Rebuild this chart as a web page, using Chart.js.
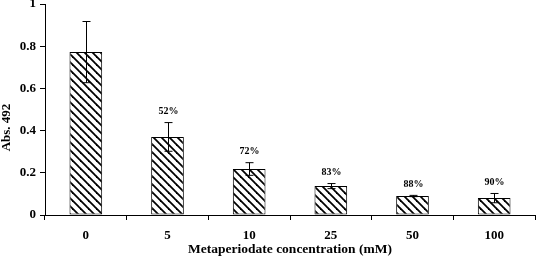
<!DOCTYPE html>
<html>
<head>
<meta charset="utf-8">
<script src="https://cdn.jsdelivr.net/npm/chart.js@4"></script>
<style>
  html, body { margin: 0; padding: 0; background: #fff; }
  #wrap { width: 536px; height: 258px; }
</style>
</head>
<body>
<div id="wrap"><canvas id="myChart"></canvas></div>
<script>
const categories = ['0', '5', '10', '25', '50', '100'];
const means = [0.772, 0.370, 0.218, 0.137, 0.090, 0.080];
const errors = [0.145, 0.068, 0.030, 0.012, 0.003, 0.022];
const pctLabels = ['', '52%', '72%', '83%', '88%', '90%'];

const serif = "'Liberation Serif', 'Times New Roman', serif";

// diagonal hatch fill
function makeHatch() {
  const c = document.createElement('canvas');
  c.width = 8; c.height = 8;
  const g = c.getContext('2d');
  g.fillStyle = '#fff';
  g.fillRect(0, 0, 8, 8);
  g.strokeStyle = '#000';
  g.lineWidth = 1.8;
  for (let k = -1; k <= 1; k++) {
    g.beginPath();
    g.moveTo(-1, -1 + 8 * k);
    g.lineTo(9, 9 + 8 * k);
    g.stroke();
  }
  return g.createPattern(c, 'repeat');
}

const errorBars = {
  id: 'errorBars',
  afterDatasetsDraw(chart) {
    const ctx = chart.ctx;
    const y = chart.scales.y;
    const meta = chart.getDatasetMeta(0);
    ctx.save();
    ctx.strokeStyle = '#000';
    ctx.lineWidth = 1;
    meta.data.forEach((bar, i) => {
      const x = Math.round(bar.x) + 0.5;
      const top = y.getPixelForValue(means[i] + errors[i]);
      const bot = y.getPixelForValue(means[i] - errors[i]);
      ctx.beginPath();
      ctx.moveTo(x, top); ctx.lineTo(x, bot);
      ctx.moveTo(x - 4, top); ctx.lineTo(x + 4, top);
      ctx.moveTo(x - 4, bot); ctx.lineTo(x + 4, bot);
      ctx.stroke();
      if (pctLabels[i]) {
        ctx.fillStyle = '#000';
        ctx.font = 'bold 10px ' + serif;
        ctx.textAlign = 'center';
        ctx.textBaseline = 'middle';
        ctx.fillText(pctLabels[i], x, top - 11);
      }
    });
    // y axis title
    const area = chart.chartArea;
    ctx.save();
    ctx.translate(7, (area.top + area.bottom) / 2 + 18);
    ctx.rotate(-Math.PI / 2);
    ctx.fillStyle = '#000';
    ctx.font = 'bold 13px ' + serif;
    ctx.textAlign = 'center';
    ctx.textBaseline = 'middle';
    ctx.fillText('Abs. 492', 0, 0);
    ctx.restore();
    ctx.restore();
  }
};

const ctx = document.getElementById('myChart').getContext('2d');
new Chart(ctx, {
  type: 'bar',
  data: {
    labels: categories,
    datasets: [{
      data: means,
      backgroundColor: makeHatch(),
      borderColor: '#000',
      borderWidth: 1,
      borderSkipped: false,
      categoryPercentage: 1,
      barPercentage: 0.4
    }]
  },
  options: {
    responsive: true,
    maintainAspectRatio: false,
    animation: false,
    events: [],
    layout: { padding: { top: 4, right: 1, left: 0, bottom: 0 } },
    plugins: {
      legend: { display: false },
      tooltip: { enabled: false }
    },
    scales: {
      x: {
        grid: { drawOnChartArea: false, offset: true, tickLength: 5, color: '#000' },
        border: { color: '#000', width: 1 },
        ticks: { color: '#000', padding: 8, font: { family: serif, size: 13, weight: 'bold' } },
        title: {
          display: true,
          text: 'Metaperiodate concentration (mM)',
          color: '#000',
          padding: { top: 0, bottom: 0 },
          font: { family: serif, size: 13.5, weight: 'bold' }
        },
        afterFit: s => { s.height = 43; }
      },
      y: {
        min: 0,
        max: 1,
        ticks: {
          stepSize: 0.2,
          color: '#000',
          padding: 4,
          font: { family: serif, size: 13, weight: 'bold' },
          callback: v => String(+v.toFixed(1))
        },
        grid: { drawOnChartArea: false, tickLength: 5, color: '#000' },
        border: { color: '#000', width: 1 },
        afterFit: s => { s.width = 45; s.paddingTop = 4; s.paddingBottom = 0; }
      }
    }
  },
  plugins: [errorBars]
});
</script>
</body>
</html>
